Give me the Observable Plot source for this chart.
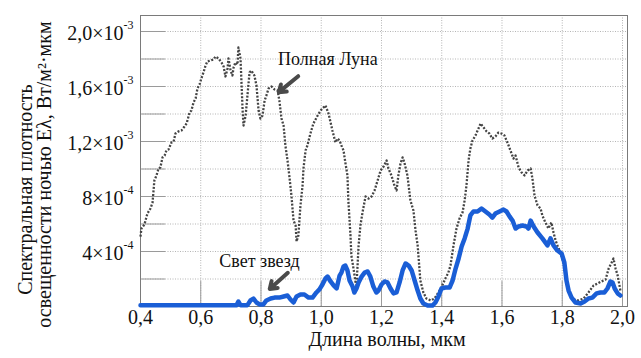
<!DOCTYPE html>
<html><head><meta charset="utf-8">
<script src="https://cdn.jsdelivr.net/npm/d3@7"></script>
<script src="https://cdn.jsdelivr.net/npm/@observablehq/plot@0.6"></script>
<style>
body{margin:0;background:#fff;overflow:hidden}
</style>
</head><body><div id="chart"></div>
<script>
// Full Moon spectral irradiance (µm, W/m²·µm)
const moonWavelength = [0.400,0.403,0.413,0.423,0.433,0.440,0.446,0.453,0.460,0.466,0.473,0.480,0.486,0.493,0.503,0.510,0.516,0.526,0.536,0.546,0.553,0.563,0.569,0.576,0.583,0.589,0.596,0.602,0.609,0.616,0.622,0.632,0.642,0.649,0.659,0.669,0.676,0.682,0.689,0.692,0.699,0.705,0.709,0.715,0.722,0.725,0.732,0.739,0.742,0.749,0.755,0.762,0.768,0.778,0.785,0.792,0.798,0.805,0.812,0.818,0.825,0.835,0.845,0.855,0.861,0.868,0.875,0.881,0.888,0.895,0.901,0.908,0.915,0.918,0.924,0.931,0.938,0.941,0.948,0.954,0.964,0.974,0.988,0.998,1.004,1.014,1.024,1.031,1.037,1.047,1.054,1.061,1.067,1.074,1.080,1.087,1.090,1.097,1.100,1.107,1.114,1.117,1.124,1.130,1.137,1.147,1.157,1.167,1.177,1.187,1.197,1.207,1.217,1.223,1.233,1.243,1.250,1.256,1.263,1.270,1.276,1.286,1.296,1.306,1.313,1.320,1.329,1.339,1.349,1.363,1.376,1.389,1.399,1.412,1.422,1.429,1.439,1.449,1.459,1.469,1.476,1.482,1.489,1.495,1.502,1.512,1.522,1.529,1.539,1.549,1.558,1.568,1.578,1.588,1.598,1.608,1.618,1.628,1.638,1.645,1.655,1.665,1.675,1.685,1.695,1.701,1.708,1.718,1.728,1.734,1.744,1.754,1.764,1.771,1.778,1.784,1.794,1.804,1.814,1.824,1.837,1.854,1.871,1.887,1.904,1.917,1.930,1.944,1.954,1.964,1.970,1.977,1.984,1.993];
const moonIrradiance = [5.09e-4,5.67e-4,5.96e-4,6.76e-4,7.13e-4,7.56e-4,9.16e-4,9.53e-4,10.04e-4,10.11e-4,10.84e-4,10.98e-4,11.35e-4,11.42e-4,11.93e-4,12.0e-4,12.58e-4,12.73e-4,12.8e-4,13.09e-4,13.31e-4,14.11e-4,14.25e-4,14.84e-4,15.13e-4,15.85e-4,16.15e-4,16.58e-4,17.02e-4,17.53e-4,17.82e-4,17.89e-4,17.96e-4,18.18e-4,18.04e-4,17.75e-4,17.45e-4,16.73e-4,17.31e-4,18.04e-4,17.16e-4,16.8e-4,17.38e-4,17.75e-4,17.6e-4,18.84e-4,18.04e-4,14.25e-4,13.16e-4,13.89e-4,15.35e-4,17.02e-4,17.16e-4,16.8e-4,16.07e-4,14.25e-4,13.67e-4,13.89e-4,14.98e-4,15.35e-4,15.85e-4,16.0e-4,15.78e-4,15.71e-4,14.98e-4,13.67e-4,13.16e-4,11.71e-4,10.62e-4,9.31e-4,8.07e-4,6.25e-4,5.89e-4,4.73e-4,5.16e-4,7.35e-4,8.8e-4,10.04e-4,11.35e-4,11.71e-4,12.58e-4,13.31e-4,13.89e-4,14.25e-4,14.4e-4,14.62e-4,14.04e-4,13.38e-4,12.8e-4,11.93e-4,12.22e-4,12.07e-4,11.71e-4,11.35e-4,10.47e-4,9.53e-4,7.71e-4,5.16e-4,3.71e-4,2.76e-4,1.75e-4,1.53e-4,4.44e-4,5.89e-4,6.84e-4,8.0e-4,7.85e-4,8.0e-4,8.44e-4,9.16e-4,9.89e-4,10.18e-4,10.62e-4,10.04e-4,9.53e-4,8.8e-4,8.44e-4,9.53e-4,10.4e-4,10.84e-4,10.47e-4,9.53e-4,7.71e-4,6.98e-4,5.53e-4,4.44e-4,1.89e-4,1.02e-4,0.58e-4,0.44e-4,0.58e-4,1.02e-4,1.38e-4,2.04e-4,2.47e-4,2.98e-4,4.44e-4,5.67e-4,6.4e-4,6.84e-4,7.71e-4,8.8e-4,10.62e-4,11.49e-4,12.07e-4,12.44e-4,12.95e-4,13.31e-4,13.02e-4,12.73e-4,12.58e-4,12.22e-4,12.36e-4,12.65e-4,12.58e-4,12.44e-4,11.93e-4,11.35e-4,10.76e-4,10.98e-4,10.11e-4,9.75e-4,9.53e-4,9.89e-4,10.04e-4,9.31e-4,8.07e-4,7.35e-4,7.13e-4,6.62e-4,6.11e-4,5.67e-4,6.11e-4,5.38e-4,4.8e-4,4.44e-4,3.93e-4,3.2e-4,1.89e-4,1.02e-4,0.51e-4,0.44e-4,0.58e-4,1.02e-4,1.53e-4,1.67e-4,1.82e-4,1.96e-4,2.76e-4,3.2e-4,3.49e-4,2.76e-4,2.25e-4,1.16e-4];

// Starlight spectral irradiance
const starWavelength = [0.400,0.719,0.725,0.732,0.755,0.765,0.775,0.785,0.795,0.808,0.818,0.832,0.845,0.861,0.875,0.888,0.898,0.908,0.918,0.931,0.944,0.958,0.971,0.984,0.994,1.004,1.014,1.021,1.031,1.041,1.051,1.061,1.067,1.074,1.080,1.087,1.094,1.104,1.110,1.117,1.124,1.134,1.144,1.154,1.163,1.173,1.183,1.190,1.200,1.210,1.220,1.230,1.240,1.250,1.260,1.270,1.280,1.290,1.300,1.310,1.320,1.329,1.339,1.353,1.369,1.379,1.389,1.399,1.412,1.426,1.436,1.446,1.456,1.466,1.476,1.486,1.495,1.505,1.519,1.532,1.545,1.558,1.568,1.578,1.592,1.605,1.615,1.625,1.635,1.645,1.655,1.668,1.681,1.688,1.695,1.705,1.718,1.734,1.751,1.761,1.771,1.784,1.798,1.807,1.814,1.821,1.831,1.844,1.861,1.874,1.887,1.900,1.914,1.927,1.940,1.950,1.960,1.967,1.974,1.984,1.993];
const starIrradiance = [0.1e-4,0.1e-4,0.36e-4,0.1e-4,0.1e-4,0.44e-4,0.58e-4,0.29e-4,0.15e-4,0.15e-4,0.44e-4,0.58e-4,0.65e-4,0.65e-4,0.73e-4,0.8e-4,0.51e-4,0.29e-4,0.73e-4,0.87e-4,0.87e-4,0.65e-4,0.65e-4,1.02e-4,1.24e-4,1.6e-4,2.04e-4,2.18e-4,1.82e-4,1.53e-4,1.31e-4,2.25e-4,2.47e-4,2.91e-4,2.98e-4,2.62e-4,1.89e-4,1.45e-4,1.02e-4,1.31e-4,1.75e-4,2.18e-4,2.47e-4,2.55e-4,2.18e-4,1.45e-4,1.02e-4,1.16e-4,1.6e-4,1.82e-4,1.75e-4,1.31e-4,0.95e-4,1.02e-4,1.75e-4,2.62e-4,3.13e-4,2.98e-4,2.62e-4,1.89e-4,1.16e-4,0.58e-4,0.22e-4,0.07e-4,0.07e-4,0.29e-4,0.73e-4,1.31e-4,1.38e-4,1.38e-4,1.89e-4,2.76e-4,3.49e-4,4.36e-4,4.95e-4,5.67e-4,6.62e-4,6.91e-4,6.91e-4,7.13e-4,6.91e-4,6.69e-4,6.47e-4,6.76e-4,6.91e-4,7.05e-4,6.91e-4,6.55e-4,6.25e-4,5.67e-4,5.82e-4,5.89e-4,5.82e-4,5.67e-4,6.25e-4,5.82e-4,5.38e-4,4.95e-4,4.44e-4,4.95e-4,4.44e-4,4.07e-4,3.85e-4,3.2e-4,1.89e-4,1.16e-4,0.65e-4,0.29e-4,0.22e-4,0.36e-4,0.58e-4,0.65e-4,0.95e-4,1.02e-4,1.02e-4,1.31e-4,1.82e-4,1.75e-4,1.31e-4,0.95e-4,0.8e-4];

// Axes
const xTicks = [0.4, 0.6, 0.8, 1.0, 1.2, 1.4, 1.6, 1.8, 2.0];
const yGrid = [2e-4, 4e-4, 6e-4, 8e-4, 10e-4, 12e-4, 14e-4, 16e-4, 18e-4, 20e-4];
const yLabelValues = [4e-4, 8e-4, 12e-4, 16e-4, 20e-4];
const yLabelMantissa = ["4×10", "8×10", "1,2×10", "1,6×10", "2,0×10"];
const yLabelExponent = ["-4", "-4", "-3", "-3", "-3"];

// Annotations
const noteText = ["Полная Луна", "Свет звезд"];
const noteX = [1.022, 0.795];
const noteY = [1.796e-3, 3.27e-4];
const arrowFromX = [0.9235, 0.889];
const arrowFromY = [1.675e-3, 2.45e-4];
const arrowToX = [0.859, 0.829];
const arrowToY = [1.559e-3, 1.28e-4];

const moon = moonWavelength.map((x, i) => ({x, y: moonIrradiance[i]})).filter(d => d.y !== undefined);
const star = starWavelength.map((x, i) => ({x, y: starIrradiance[i]})).filter(d => d.y !== undefined);
const notes = noteText.map((t, i) => ({t, x: noteX[i], y: noteY[i]}));
const arrows = arrowFromX.map((x1, i) => ({x1, y1: arrowFromY[i], x2: arrowToX[i], y2: arrowToY[i]}));
const yLabels = yLabelValues.map((v, i) => ({v, m: yLabelMantissa[i], e: yLabelExponent[i]}));
const fmtX = d => d.toFixed(1).replace(".", ",");
const serif = "Liberation Serif";
const T = {fontFamily: serif, fill: "#111"};

const chart = Plot.plot({
  width: 641, height: 358,
  marginLeft: 140, marginRight: 14, marginTop: 15, marginBottom: 52,
  style: {background: "#fff", color: "#111"},
  x: {domain: [0.4, 2.0166]},
  y: {domain: [0, 2.1164e-3]},
  marks: [
    Plot.gridX(xTicks, {stroke: "#b5b5b5", strokeOpacity: 1, strokeDasharray: "1,1.5"}),
    Plot.gridY(yGrid, {stroke: "#b5b5b5", strokeOpacity: 1, strokeDasharray: "1,1.5"}),
    Plot.axisX(xTicks, {tickSize: -25, tickFormat: () => "", stroke: "#9a9a9a", label: null}),
    Plot.axisY(yGrid, {tickSize: -25, tickFormat: () => "", stroke: "#9a9a9a", label: null}),
    Plot.frame({stroke: "#7a7a7a"}),
    Plot.line(moon, {x: "x", y: "y", stroke: "#444", strokeWidth: 2.3, strokeDasharray: "2,1.6", strokeLinecap: "butt"}),
    Plot.line(star, {x: "x", y: "y", stroke: "#1a5ed6", strokeWidth: 4.5, strokeLinejoin: "round", strokeLinecap: "round"}),
    Plot.arrow(arrows, {x1: "x1", y1: "y1", x2: "x2", y2: "y2", stroke: "#4a4a4a", strokeWidth: 4, headLength: 3, headAngle: 70}),
    Plot.text(notes, {x: "x", y: "y", text: "t", fontSize: 18, ...T}),
    // tick labels
    Plot.text(xTicks, {x: d => d, frameAnchor: "bottom", dy: 17, text: fmtX, fontSize: 20, ...T}),
    Plot.text(yLabels, {y: "v", frameAnchor: "left", dx: -17, dy: 2, text: "m", textAnchor: "end", fontSize: 20, ...T}),
    Plot.text(yLabels, {y: "v", frameAnchor: "left", dx: -17, dy: -6, text: "e", textAnchor: "start", fontSize: 12, ...T}),
    // axis titles
    Plot.text(["Длина волны, мкм"], {frameAnchor: "bottom", dx: 3, dy: 39, fontSize: 20, ...T}),
    Plot.text(["Спектральная плотность"], {y: [8.5e-4], frameAnchor: "left", dx: -115, rotate: -90, textAnchor: "middle", fontSize: 20, ...T}),
    Plot.text(["освещенности ночью Eλ, Вт/м²·мкм"], {y: [9.6e-4], frameAnchor: "left", dx: -96, rotate: -90, textAnchor: "middle", fontSize: 20, ...T})
  ]
});
// make sure the serif face and sizes set on the marks are honoured
d3.select(chart).selectAll("g[font-size]").each(function() {
  this.style.setProperty("font-size", this.getAttribute("font-size") + "px");
});
d3.select(chart).selectAll("text").each(function() {
  this.style.setProperty("font-family", "'Liberation Serif', 'Times New Roman', serif", "important");
});
document.getElementById("chart").appendChild(chart);
</script>
</body></html>
